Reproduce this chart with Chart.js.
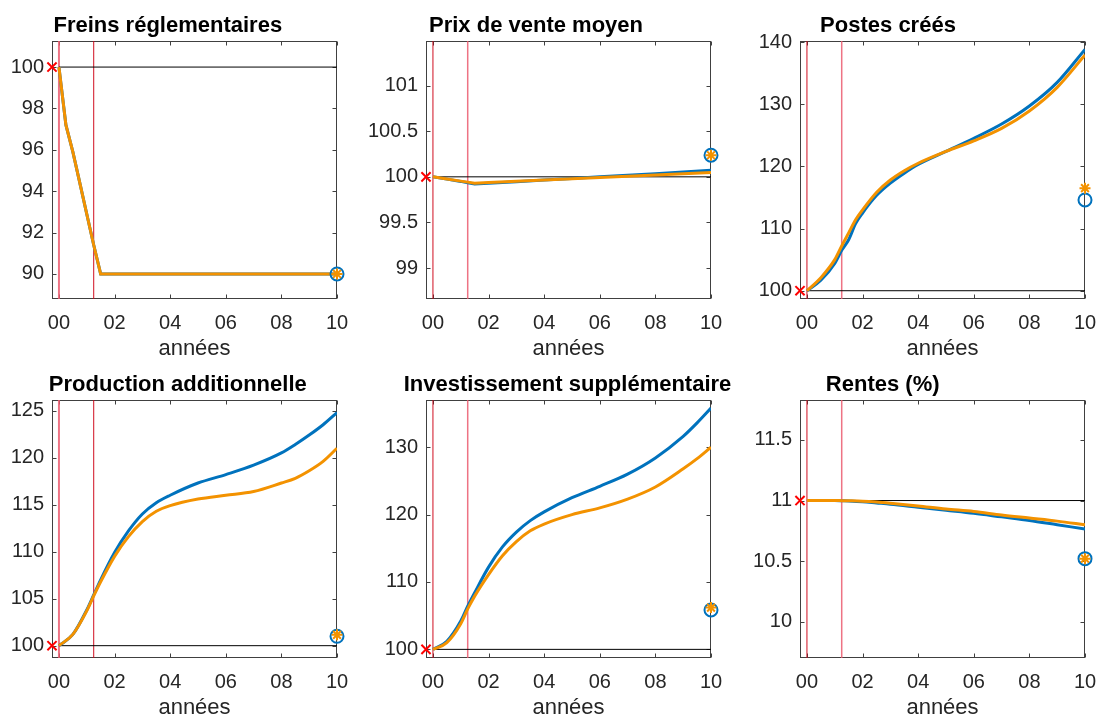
<!DOCTYPE html>
<html><head><meta charset="utf-8">
<script src="https://cdn.jsdelivr.net/npm/chart.js@4.4.1/dist/chart.umd.min.js"></script>
<style>
html,body{margin:0;padding:0;background:#fff;overflow:hidden;}
body{width:1099px;height:719px;position:relative;}
.panel{position:absolute;width:380px;height:360px;}
</style></head><body>
<div class="panel" id="p0"><canvas></canvas></div>
<div class="panel" id="p1"><canvas></canvas></div>
<div class="panel" id="p2"><canvas></canvas></div>
<div class="panel" id="p3"><canvas></canvas></div>
<div class="panel" id="p4"><canvas></canvas></div>
<div class="panel" id="p5"><canvas></canvas></div>
<script>
// ---------- DATA ----------
const titles = ['Freins réglementaires','Prix de vente moyen','Postes créés','Production additionnelle','Investissement supplémentaire','Rentes (%)'];
const xAxisLabel = 'années';
const xTickValues = [0, 2, 4, 6, 8, 10];
const xTickLabels = ['00', '02', '04', '06', '08', '10'];
const xStart = -0.25;
const xEnd = 10;
const shockDates = [0, 1.25];

// Freins réglementaires
const x1 = [0, 0.25, 0.5, 0.75, 1, 1.25, 1.5, 10];
const blue1 = [100, 97.2, 95.9, 94.4, 92.9, 91.4, 90, 90];
const orange1 = [100, 97.2, 95.9, 94.4, 92.9, 91.4, 90, 90];
const ends1 = [90, 90];
const base1 = 100;
const yLim1 = [88.79, 101.26];
const yTicks1 = [90, 92, 94, 96, 98, 100];

// Prix de vente moyen
const x2 = [0, 0.5, 1, 1.25, 1.5, 2, 3, 4, 5, 6, 7, 8, 9, 10];
const blue2 = [100, 99.975, 99.95, 99.935, 99.922, 99.93, 99.947, 99.965, 99.982, 100.0, 100.018, 100.035, 100.053, 100.073];
const orange2 = [100, 99.977, 99.953, 99.942, 99.93, 99.937, 99.951, 99.965, 99.978, 99.992, 100.006, 100.02, 100.033, 100.047];
const ends2 = [100.237, 100.237];
const base2 = 100;
const yLim2 = [98.66, 101.49];
const yTicks2 = [99, 99.5, 100, 100.5, 101];

// Postes créés
const x3 = [0, 0.5, 1, 1.25, 1.5, 1.75, 2, 2.5, 3, 3.5, 4, 5, 6, 7, 8, 9, 10];
const blue3 = [100, 101.7, 104.4, 106.5, 108.2, 110.8, 112.5, 115.3, 117.3, 118.9, 120.3, 122.4, 124.5, 126.8, 129.7, 133.5, 138.8];
const orange3 = [100, 102.1, 105.0, 107.2, 109.3, 111.4, 113.0, 115.8, 117.8, 119.3, 120.5, 122.4, 124.1, 126.1, 128.9, 132.7, 137.9];
const ends3 = [114.6, 116.5];
const base3 = 100;
const yLim3 = [98.67, 140.16];
const yTicks3 = [100, 110, 120, 130, 140];

// Production additionnelle
const x4 = [0, 0.5, 1, 1.25, 1.5, 2, 2.5, 3, 3.5, 4, 5, 6, 7, 8, 8.5, 9, 9.5, 10];
const blue4 = [100, 101.2, 103.8, 105.4, 107.0, 109.9, 112.2, 114.0, 115.2, 116.0, 117.3, 118.2, 119.2, 120.5, 121.4, 122.4, 123.5, 124.8];
const orange4 = [100, 101.2, 103.7, 105.3, 106.8, 109.5, 111.6, 113.2, 114.3, 114.9, 115.6, 116.0, 116.4, 117.3, 117.8, 118.6, 119.6, 121.0];
const ends4 = [101.0, 101.15];
const base4 = 100;
const yLim4 = [98.69, 126.13];
const yTicks4 = [100, 105, 110, 115, 120, 125];

// Investissement supplémentaire
const x5 = [0, 0.5, 1, 1.25, 1.5, 2, 2.5, 3, 3.5, 4, 5, 6, 7, 8, 9, 9.5, 10];
const blue5 = [100, 101.2, 104.2, 106.4, 108.4, 112.2, 115.2, 117.4, 119.1, 120.4, 122.5, 124.2, 126.0, 128.4, 131.6, 133.6, 135.8];
const orange5 = [100, 101.0, 103.8, 106.0, 107.9, 111.1, 113.9, 116.0, 117.6, 118.6, 120.0, 121.0, 122.3, 124.1, 126.8, 128.3, 130.0];
const ends5 = [105.85, 106.2];
const base5 = 100;
const yLim5 = [98.72, 137.0];
const yTicks5 = [100, 110, 120, 130];

// Rentes (%)
const x6 = [0, 0.5, 1, 1.25, 1.5, 2, 2.5, 3, 4, 5, 6, 7, 8, 9, 10];
const blue6 = [11.0, 11.0, 11.0, 10.998, 10.996, 10.99, 10.98, 10.97, 10.945, 10.92, 10.895, 10.865, 10.835, 10.80, 10.765];
const orange6 = [11.0, 11.0, 11.0, 10.999, 10.998, 10.995, 10.988, 10.978, 10.955, 10.93, 10.91, 10.88, 10.855, 10.83, 10.80];
const ends6 = [10.52, 10.52];
const base6 = 11;
const yLim6 = [9.70, 11.83];
const yTicks6 = [10, 10.5, 11, 11.5];

// ---------- LAYOUT / STYLE ----------
const FONT = "'Liberation Sans', Arial, Helvetica, sans-serif";
const BLUE = '#0072BD';
const ORANGE = '#F39200';
const DARKRED = 'rgba(205,0,20,0.95)';
const LIGHTRED = 'rgba(235,90,110,0.85)';
const YAXIS_W = 70;
const panelPos = [
  {left: 52 - YAXIS_W,  top: 0,   titleDx: 115.8, smooth: false, lightFirst: true},
  {left: 426 - YAXIS_W, top: 0,   titleDx: 110,   smooth: false, lightFirst: false},
  {left: 800 - YAXIS_W, top: 0,   titleDx: 88,    smooth: true,  lightFirst: false},
  {left: 52 - YAXIS_W,  top: 359, titleDx: 125.8, smooth: true,  lightFirst: true},
  {left: 426 - YAXIS_W, top: 359, titleDx: 141.5, smooth: true,  lightFirst: false},
  {left: 800 - YAXIS_W, top: 359, titleDx: 82.7,  smooth: true,  lightFirst: false}
];
const series = [
  [x1, blue1, orange1, ends1, base1, yLim1, yTicks1],
  [x2, blue2, orange2, ends2, base2, yLim2, yTicks2],
  [x3, blue3, orange3, ends3, base3, yLim3, yTicks3],
  [x4, blue4, orange4, ends4, base4, yLim4, yTicks4],
  [x5, blue5, orange5, ends5, base5, yLim5, yTicks5],
  [x6, blue6, orange6, ends6, base6, yLim6, yTicks6]
];

const matlabAxes = {
  id: 'matlabAxes',
  beforeDatasetsDraw(chart) {
    const {ctx, chartArea: a, scales: {x, y}} = chart;
    ctx.save();
    ctx.strokeStyle = '#404040';
    ctx.lineWidth = 1;
    const L = Math.round(a.left) + 0.5, R = Math.round(a.right) - 0.5;
    const T = Math.round(a.top) + 0.5, B = Math.round(a.bottom) - 0.5;
    ctx.strokeRect(L, T, R - L, B - T);
    const tl = 4;
    ctx.beginPath();
    x.ticks.forEach(t => {
      const px = Math.round(x.getPixelForValue(t.value)) + 0.5;
      ctx.moveTo(px, B); ctx.lineTo(px, B - tl);
      ctx.moveTo(px, T); ctx.lineTo(px, T + tl);
    });
    y.ticks.forEach(t => {
      const py = Math.round(y.getPixelForValue(t.value)) + 0.5;
      ctx.moveTo(L, py); ctx.lineTo(L + tl, py);
      ctx.moveTo(R, py); ctx.lineTo(R - tl, py);
    });
    ctx.stroke();
    ctx.restore();
  },
  afterDraw(chart, args, opts) {
    const {ctx, chartArea: a} = chart;
    ctx.save();
    ctx.font = "bold 22px " + FONT;
    ctx.fillStyle = '#000';
    ctx.textAlign = 'center';
    ctx.textBaseline = 'alphabetic';
    ctx.fillText(opts.text, a.left + opts.dx, a.top - 9);
    ctx.restore();
  }
};

function pts(xs, ys) { return xs.map((x, i) => ({x: x, y: ys[i]})); }

series.forEach((s, i) => {
  const [xs, blue, orange, ends, base, yLim, yTicks] = s;
  const P = panelPos[i];
  const div = document.getElementById('p' + i);
  div.style.left = P.left + 'px';
  div.style.top = P.top + 'px';
  const lineOpts = P.smooth ? {cubicInterpolationMode: 'monotone'} : {tension: 0};
  const shockStyles = P.lightFirst
    ? [{c: LIGHTRED, w: 2}, {c: DARKRED, w: 1}]
    : [{c: DARKRED, w: 1}, {c: LIGHTRED, w: 1.5}];
  const datasets = [];
  shockDates.forEach((d, k) => {
    datasets.push({
      data: [{x: d, y: yLim[0]}, {x: d, y: yLim[1]}],
      showLine: true, borderColor: shockStyles[k].c, borderWidth: shockStyles[k].w,
      pointRadius: 0, order: 5
    });
  });
  datasets.push({
    data: [{x: 0, y: base}, {x: xEnd, y: base}],
    showLine: true, borderColor: '#000', borderWidth: 1, pointRadius: 0, order: 4
  });
  datasets.push(Object.assign({
    data: pts(xs, blue), showLine: true, borderColor: BLUE, borderWidth: 3,
    pointRadius: 0, order: 3
  }, lineOpts));
  datasets.push(Object.assign({
    data: pts(xs, orange), showLine: true, borderColor: ORANGE, borderWidth: 3,
    pointRadius: 0, order: 2
  }, lineOpts));
  datasets.push({
    data: [{x: xEnd, y: ends[0]}], pointStyle: 'circle', pointRadius: 6.5,
    pointBorderWidth: 2, pointBorderColor: BLUE, pointBackgroundColor: 'rgba(0,0,0,0)',
    showLine: false, clip: false, order: 1
  });
  datasets.push({
    data: [{x: xEnd, y: ends[1]}], pointStyle: 'star', pointRadius: 5.5,
    pointBorderWidth: 2, pointBorderColor: ORANGE, pointBackgroundColor: ORANGE,
    showLine: false, clip: false, order: 0
  });
  datasets.push({
    data: [{x: xStart, y: base}], pointStyle: 'crossRot', pointRadius: 6.5,
    pointBorderWidth: 2, pointBorderColor: '#ff0000',
    showLine: false, clip: false, order: 0
  });

  new Chart(div.querySelector('canvas'), {
    type: 'scatter',
    data: {datasets: datasets},
    options: {
      responsive: true, maintainAspectRatio: false, animation: false,
      devicePixelRatio: 1, events: [],
      layout: {padding: {left: 0, top: 41, right: 25, bottom: 0}},
      plugins: {
        legend: {display: false}, tooltip: {enabled: false},
        matlabAxes: {text: titles[i], dx: P.titleDx}
      },
      scales: {
        x: {
          type: 'linear', min: xStart, max: xEnd,
          grid: {display: false, drawTicks: false}, border: {display: false},
          afterBuildTicks: sc => { sc.ticks = xTickValues.map(v => ({value: v})); },
          afterFit: sc => { sc.height = 61; },
          ticks: {
            autoSkip: false, maxRotation: 0, padding: 12,
            color: '#262626', font: {family: FONT, size: 20},
            callback: (v, idx) => xTickLabels[idx]
          },
          title: {display: true, text: xAxisLabel, color: '#262626',
                  font: {family: FONT, size: 22}, padding: {top: 0, bottom: -2}}
        },
        y: {
          type: 'linear', min: yLim[0], max: yLim[1],
          grid: {display: false, drawTicks: false}, border: {display: false},
          afterBuildTicks: sc => { sc.ticks = yTicks.map(v => ({value: v})); },
          afterFit: sc => { sc.width = YAXIS_W; },
          ticks: {
            autoSkip: false, padding: 8,
            color: '#262626', font: {family: FONT, size: 20},
            callback: v => String(v)
          }
        }
      }
    },
    plugins: [matlabAxes]
  });
});
</script>
</body></html>
